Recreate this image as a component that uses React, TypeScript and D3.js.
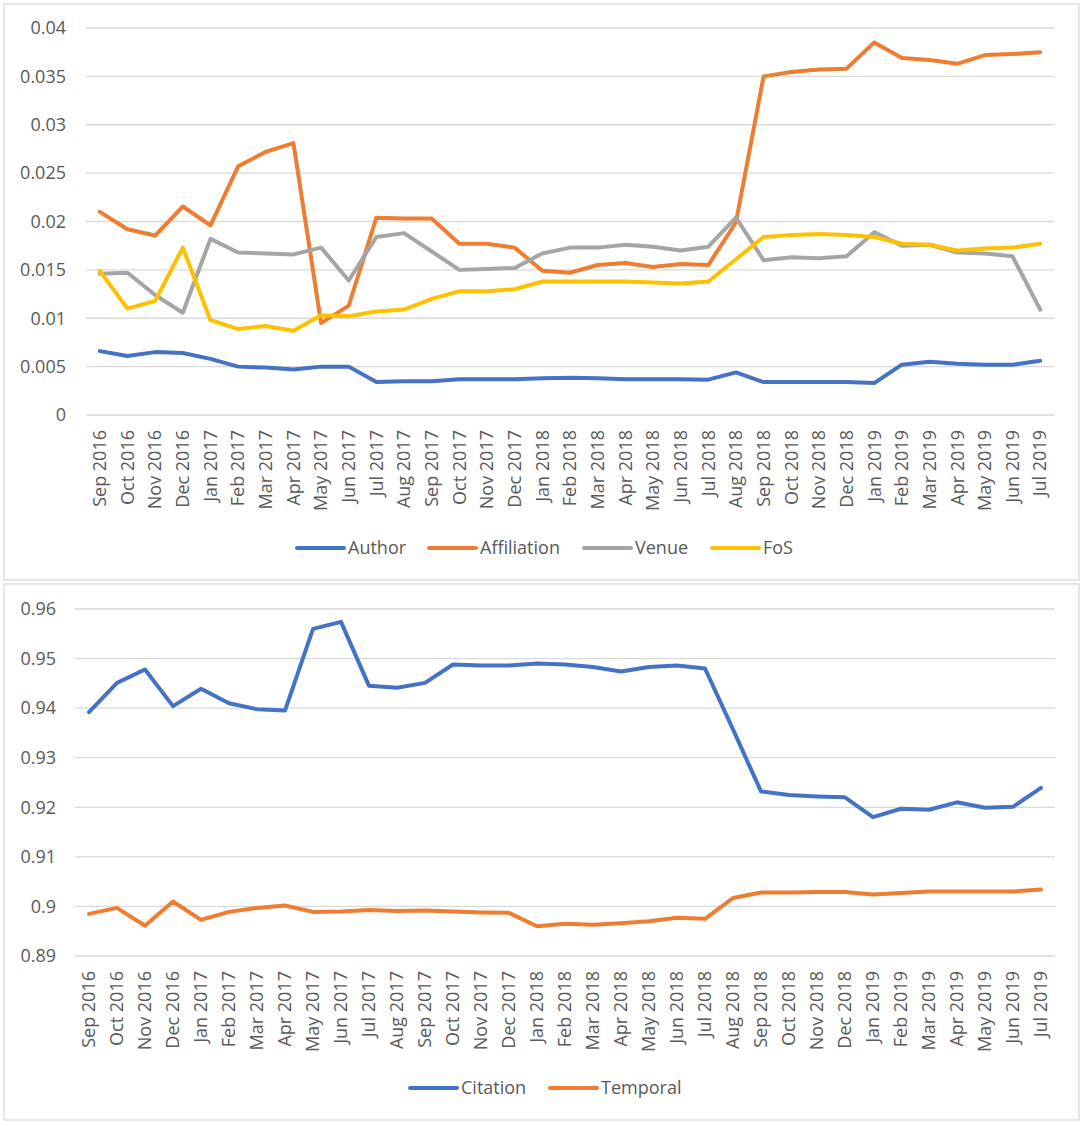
import React from "react";
import * as d3 from "d3";

const months = [
  "Sep 2016","Oct 2016","Nov 2016","Dec 2016",
  "Jan 2017","Feb 2017","Mar 2017","Apr 2017","May 2017","Jun 2017","Jul 2017","Aug 2017","Sep 2017","Oct 2017","Nov 2017","Dec 2017",
  "Jan 2018","Feb 2018","Mar 2018","Apr 2018","May 2018","Jun 2018","Jul 2018","Aug 2018","Sep 2018","Oct 2018","Nov 2018","Dec 2018",
  "Jan 2019","Feb 2019","Mar 2019","Apr 2019","May 2019","Jun 2019","Jul 2019",
];

const author = [0.0066,0.0061,0.0065,0.0064,0.0058,0.0050,0.0049,0.0047,0.0050,0.0050,0.0034,0.0035,0.0035,0.0037,0.0037,0.0037,0.0038,0.00385,0.0038,0.0037,0.0037,0.0037,0.00365,0.0044,0.0034,0.0034,0.0034,0.0034,0.0033,0.0052,0.0055,0.0053,0.0052,0.0052,0.0056];
const affiliation = [0.0210,0.0192,0.01855,0.02155,0.0196,0.0257,0.0272,0.0281,0.0095,0.0113,0.0204,0.0203,0.0203,0.0177,0.0177,0.0173,0.0149,0.0147,0.0155,0.0157,0.0153,0.0156,0.0155,0.0199,0.0350,0.03545,0.0357,0.0358,0.0385,0.0369,0.0367,0.0363,0.0372,0.0373,0.0375];
const venue = [0.0146,0.0147,0.0124,0.01057,0.0182,0.0168,0.0167,0.0166,0.0173,0.0139,0.0184,0.0188,0.0169,0.0150,0.0151,0.0152,0.0167,0.0173,0.0173,0.0176,0.0174,0.0170,0.0174,0.0204,0.0160,0.0163,0.0162,0.0164,0.0189,0.0175,0.0176,0.0168,0.0167,0.0164,0.0109];
const fos = [0.0149,0.0110,0.0118,0.0173,0.0098,0.0089,0.0092,0.0087,0.0103,0.0102,0.0107,0.0109,0.0120,0.0128,0.0128,0.0130,0.0138,0.0138,0.0138,0.0138,0.0137,0.0136,0.0138,0.0161,0.0184,0.0186,0.0187,0.0186,0.0184,0.0177,0.0176,0.0170,0.0172,0.0173,0.0177];

const citation = [0.9392,0.9451,0.9478,0.9404,0.9439,0.9410,0.9398,0.9395,0.9560,0.9574,0.9445,0.9441,0.9451,0.9488,0.9486,0.9486,0.9490,0.9488,0.9483,0.9474,0.9483,0.9486,0.9480,0.9357,0.9232,0.9225,0.9222,0.9220,0.9180,0.9197,0.9195,0.9210,0.9199,0.9201,0.9239];
const temporal = [0.8985,0.8997,0.8961,0.9010,0.8973,0.8989,0.8997,0.9002,0.8989,0.8990,0.8993,0.8991,0.8992,0.8990,0.8988,0.8987,0.8960,0.8965,0.8963,0.8966,0.8970,0.8977,0.8975,0.9017,0.9028,0.9028,0.9029,0.9029,0.9024,0.9027,0.9030,0.9030,0.9030,0.9030,0.9034];

const topTicks = [0, 0.005, 0.01, 0.015, 0.02, 0.025, 0.03, 0.035, 0.04];
const topTickLabels = ["0","0.005","0.01","0.015","0.02","0.025","0.03","0.035","0.04"];
const bottomTicks = [0.89, 0.9, 0.91, 0.92, 0.93, 0.94, 0.95, 0.96];
const bottomTickLabels = ["0.89","0.9","0.91","0.92","0.93","0.94","0.95","0.96"];

const topSeries = [
  { name: "Author", values: author, color: "#4472C4" },
  { name: "Affiliation", values: affiliation, color: "#ED7D31" },
  { name: "Venue", values: venue, color: "#A5A5A5" },
  { name: "FoS", values: fos, color: "#FFC000" },
];
const bottomSeries = [
  { name: "Citation", values: citation, color: "#4472C4" },
  { name: "Temporal", values: temporal, color: "#ED7D31" },
];

const FONT = "'Open Sans', sans-serif";
const TXT = "#595959";

type Panel = {
  box: [number, number, number, number];
  x0: number; x1: number; yTop: number; yBot: number;
  domain: [number, number];
  ticks: number[]; tickLabels: string[]; labelX: number;
  series: { name: string; values: number[]; color: string }[];
  legendY: number;
  legendItems: { x: number }[];
};

function ChartPanel({ p }: { p: Panel }) {
  const x = d3.scaleBand<string>().domain(months).range([p.x0, p.x1]);
  const y = d3.scaleLinear().domain(p.domain).range([p.yBot, p.yTop]);
  const cx = (m: string) => (x(m) as number) + x.bandwidth() / 2;
  const line = d3.line<number>().x((_, i) => cx(months[i])).y((v) => y(v));
  const [bx, by, bw, bh] = p.box;
  return (
    <g>
      <rect x={bx} y={by} width={bw} height={bh} fill="#fff" stroke="#d9d9d9" strokeWidth={1.3} />
      {p.ticks.map((t, i) => (
        <g key={t}>
          <line x1={p.x0} x2={p.x1} y1={y(t)} y2={y(t)} stroke="#d9d9d9" strokeWidth={1.3} />
          <text x={p.labelX} y={y(t)} dy="0.35em" textAnchor="end" fontSize={18} fontFamily={FONT} fill={TXT}>
            {p.tickLabels[i]}
          </text>
        </g>
      ))}
      {months.map((m) => (
        <text key={m} transform={`translate(${cx(m)},${p.yBot + 15}) rotate(-90)`} dy="0.35em" textAnchor="end"
          fontSize={18} fontFamily={FONT} fill={TXT}>
          {m}
        </text>
      ))}
      {p.series.map((s) => (
        <path key={s.name} d={line(s.values) || ""} fill="none" stroke={s.color} strokeWidth={4}
          strokeLinejoin="round" strokeLinecap="round" />
      ))}
      {p.series.map((s, i) => (
        <g key={s.name} transform={`translate(${p.legendItems[i].x},${p.legendY})`}>
          <line x1={0} x2={47} y1={0} y2={0} stroke={s.color} strokeWidth={4} strokeLinecap="round" />
          <text x={51} y={0} dy="0.35em" fontSize={18} fontFamily={FONT} fill={TXT}>{s.name}</text>
        </g>
      ))}
    </g>
  );
}

export default function App() {
  const top: Panel = {
    box: [4, 4, 1075, 576],
    x0: 86, x1: 1054, yTop: 28, yBot: 415,
    domain: [0, 0.04],
    ticks: topTicks, tickLabels: topTickLabels, labelX: 66,
    series: topSeries,
    legendY: 548,
    legendItems: [{ x: 297 }, { x: 429 }, { x: 584 }, { x: 712 }],
  };
  const bottom: Panel = {
    box: [4, 584, 1075, 536],
    x0: 75, x1: 1055, yTop: 609, yBot: 956,
    domain: [0.89, 0.96],
    ticks: bottomTicks, tickLabels: bottomTickLabels, labelX: 56,
    series: bottomSeries,
    legendY: 1088,
    legendItems: [{ x: 410 }, { x: 550 }],
  };
  return (
    <svg width={1084} height={1126} style={{ position: "absolute", left: 0, top: 0, background: "#fff" }}>
      <rect x={0} y={0} width={1084} height={1126} fill="#fff" />
      <ChartPanel p={top} />
      <ChartPanel p={bottom} />
    </svg>
  );
}
